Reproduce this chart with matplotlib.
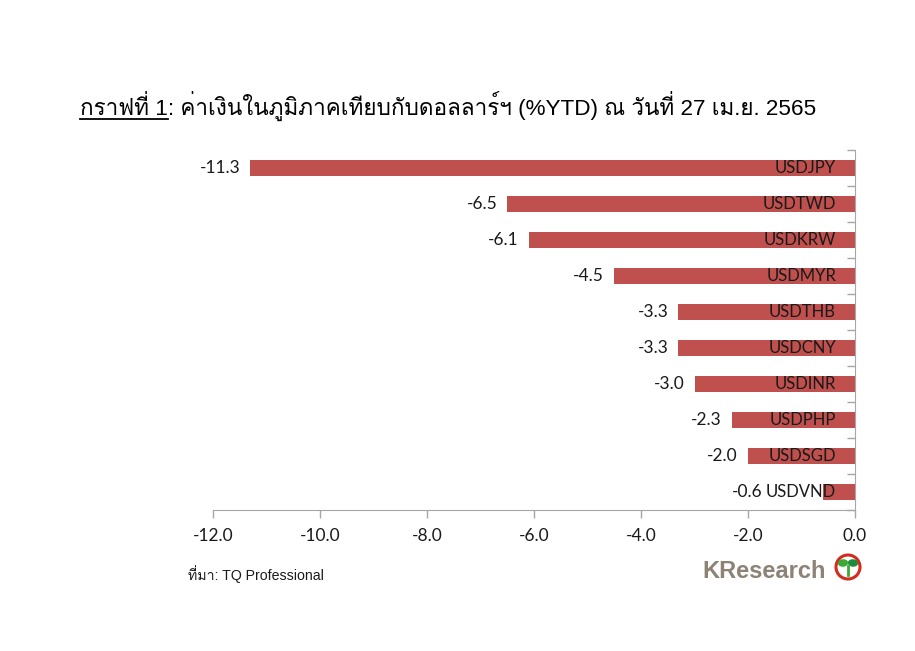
import matplotlib
matplotlib.use("Agg")
import matplotlib.pyplot as plt
import numpy as np
from matplotlib import font_manager
from matplotlib.ft2font import FT2Font
from matplotlib.patches import Ellipse
from matplotlib.lines import Line2D

# ---- data ----
currencies = ["USDJPY", "USDTWD", "USDKRW", "USDMYR", "USDTHB",
              "USDCNY", "USDINR", "USDPHP", "USDSGD", "USDVND"]
ytd_change = [-11.3, -6.5, -6.1, -4.5, -3.3, -3.3, -3.0, -2.3, -2.0, -0.6]
x_ticks = [-12.0, -10.0, -8.0, -6.0, -4.0, -2.0, 0.0]

title_head = "กราฟที่ 1"
title_rest = ": ค่าเงินในภูมิภาคเทียบกับดอลลาร์ฯ (%YTD) ณ วันที่ 27 เม.ย. 2565"
source_text = "ที่มา: TQ Professional"


def find_thai_font():
    # look for any installed font with Thai glyphs
    found = []
    for path in font_manager.findSystemFonts():
        try:
            f = FT2Font(path)
            if 0x0E01 in f.get_charmap():
                font_manager.fontManager.addfont(path)
                name = font_manager.FontProperties(fname=path).get_name()
                found.append(name)
        except Exception:
            pass
    pref = ["Tahoma", "Arial", "Loma", "Garuda", "Noto Sans Thai", "Sarabun", "Kinnari"]
    for p in pref:
        for n in found:
            if p.lower() in n.lower():
                return n
    return found[0] if found else "DejaVu Sans"


thai = find_thai_font()
latin_thai = ["Liberation Sans", thai, "DejaVu Sans"]
num_font = "Lato"

W, H = 915, 651
fig = plt.figure(figsize=(W / 100, H / 100), dpi=100)
fig.patch.set_facecolor("white")


def fx(px):
    return px / W


def fy(py):
    return 1 - py / H


ax = fig.add_axes([fx(213), fy(510), fx(855) - fx(213), fy(150) - fy(510)])

ypos = np.arange(len(currencies))
bar_color = "#C0504D"
ax.barh(ypos, ytd_change, height=0.44, color=bar_color, zorder=2)

ax.set_xlim(-12, 0)
ax.set_ylim(len(currencies) - 0.5, -0.5)

axis_grey = "#A6A6A6"
for s in ["top", "left"]:
    ax.spines[s].set_visible(False)
ax.spines["right"].set_color(axis_grey)
ax.spines["bottom"].set_color(axis_grey)
ax.spines["right"].set_zorder(3)

ax.set_xticks(x_ticks)
ax.set_xticklabels(["%.1f" % t for t in x_ticks], fontfamily=num_font,
                   fontsize=12.5, color="#1a1a1a")
ax.tick_params(axis="x", direction="out", length=6, width=1, color=axis_grey, pad=7)

ax.yaxis.tick_right()
ax.set_yticks([])
ax.set_yticks(np.arange(-0.5, len(currencies), 1.0), minor=True)
ax.tick_params(axis="y", which="minor", direction="in", length=6, width=1,
               color=axis_grey, labelright=False)

# labels
fig.canvas.draw()
renderer = fig.canvas.get_renderer()
for i, (name, v) in enumerate(zip(currencies, ytd_change)):
    t = ax.annotate(name, xy=(0, i), xytext=(-19, 0), textcoords="offset pixels",
                    ha="right", va="center", fontsize=12, fontfamily=num_font,
                    color="#1a1a1a", zorder=4)
    bb = t.get_window_extent(renderer)
    bar_px = ax.transData.transform((v, i))[0]
    xr = min(bar_px - 10, bb.x0 - 3)
    xd = ax.transData.inverted().transform((xr, 0))[0]
    ax.text(xd, i, "%.1f" % v, ha="right", va="center", fontsize=12.5,
            fontfamily=num_font, color="#1a1a1a", zorder=4)

# title
t1 = fig.text(fx(80), fy(115), title_head, fontsize=16.2, family=latin_thai,
              ha="left", va="baseline", color="black")
fig.canvas.draw()
bb = t1.get_window_extent(renderer)
fig.text(bb.x1 / W, fy(115), title_rest, fontsize=16.2, family=latin_thai,
         ha="left", va="baseline", color="black")
fig.add_artist(Line2D([bb.x0 / W, bb.x1 / W], [fy(119), fy(119)],
                      color="black", lw=1.3, transform=fig.transFigure))

# source
fig.text(fx(188), fy(580), source_text, fontsize=10.2, family=latin_thai,
         ha="left", va="baseline", color="#1a1a1a")

# logo
fig.text(fx(702), fy(578), "KResearch", fontsize=17, fontweight="bold",
         family="Liberation Sans", color="#8C8276", ha="left", va="baseline")
fig.add_artist(Ellipse((fx(848), fy(567)), 24 / W, 24 / H, transform=fig.transFigure,
                       facecolor="white", edgecolor="#D52B1E", lw=2.2))
fig.add_artist(Ellipse((fx(843), fy(563)), 9 / W, 6 / H, angle=35,
                       transform=fig.transFigure, color="#3AA935"))
fig.add_artist(Ellipse((fx(853), fy(563)), 9 / W, 6 / H, angle=-35,
                       transform=fig.transFigure, color="#1E8C3A"))
fig.add_artist(Line2D([fx(848), fx(848)], [fy(566), fy(575)], color="#3AA935",
                      lw=2, transform=fig.transFigure))

fig.savefig("out.png", dpi=100)
